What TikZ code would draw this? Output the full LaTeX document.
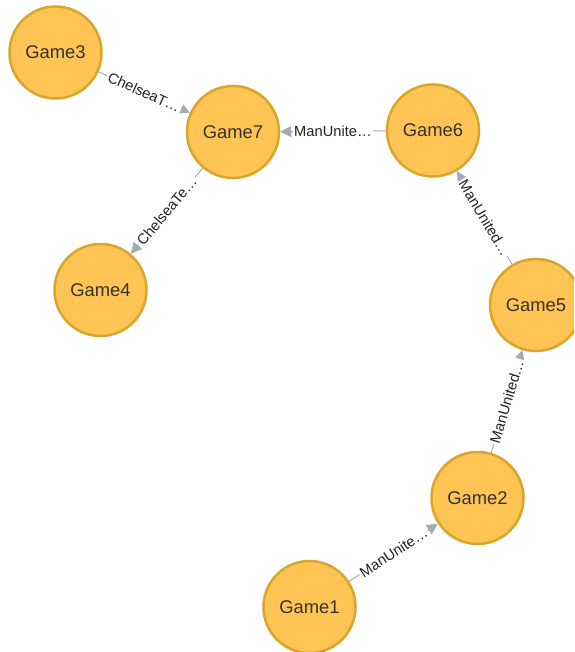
\documentclass[tikz,border=0pt]{standalone}
\usepackage{fontspec}
\setmainfont{Liberation Sans}
\usetikzlibrary{arrows.meta}
\definecolor{nodefill}{HTML}{FFC454}
\definecolor{nodeborder}{HTML}{D9A52C}
\definecolor{nodetext}{HTML}{333333}
\definecolor{relgray}{HTML}{A5ABB6}
\definecolor{reltext}{HTML}{222222}
\tikzset{
  game/.style={circle, minimum size=92pt, inner sep=0pt, line width=2.5pt,
    draw=nodeborder, fill=nodefill, text=nodetext,
    font=\fontsize{18.4}{20}\selectfont},
  rel/.style={draw=relgray, line width=1pt,
    -{Triangle[length=11pt,width=11pt]}},
  rellabel/.style={midway, sloped, fill=white, inner sep=1.5pt, text=reltext,
    font=\fontsize{14.7}{16}\selectfont}
}
\begin{document}
\begin{tikzpicture}[x=1pt, y=-1pt]
  \useasboundingbox (0,0) rectangle (574,652);
  \clip (0,0) rectangle (574,652);
  \fill[white] (0,0) rectangle (574,652);

  % nodes
  \node[game] (g3) at (55.5,52.5) {Game3};
  \node[game] (g7) at (233,132) {Game7};
  \node[game] (g6) at (433,130.5) {Game6};
  \node[game] (g4) at (100.5,290) {Game4};
  \node[game] (g5) at (536,305) {Game5};
  \node[game] (g2) at (477.5,498) {Game2};
  \node[game] (g1) at (309.5,607) {Game1};

  % relationships
  \draw[rel] (g3) -- node[rellabel] {ChelseaT…} (g7);
  \draw[rel] (g7) -- node[rellabel] {ChelseaTe…} (g4);
  \draw[rel] (g6) -- node[rellabel] {ManUnite…} (g7);
  \draw[rel] (g5) -- node[rellabel] {ManUnited…} (g6);
  \draw[rel] (g2) -- node[rellabel] {ManUnited…} (g5);
  \draw[rel] (g1) -- node[rellabel] {ManUnite…} (g2);
\end{tikzpicture}
\end{document}
